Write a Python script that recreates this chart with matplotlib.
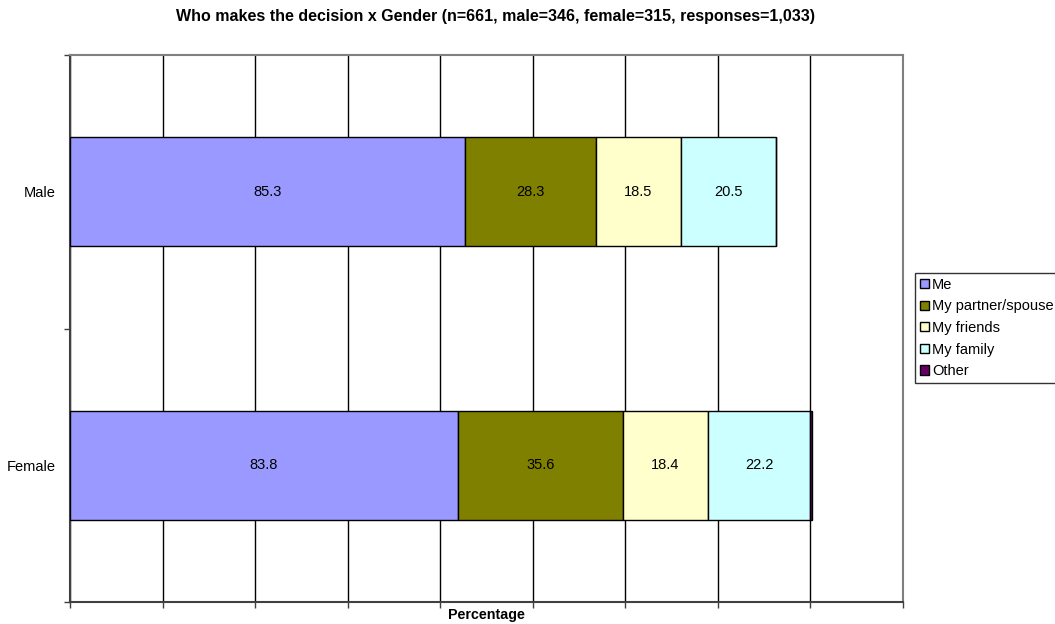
import matplotlib
matplotlib.use("Agg")
import matplotlib.pyplot as plt
import numpy as np

plt.rcParams['font.family'] = ['Liberation Sans', 'DejaVu Sans']

# Survey results: who makes the decision, split by gender
genders = ["Female", "Male"]
series_names = ["Me", "My partner/spouse", "My friends", "My family", "Other"]
me = [83.8, 85.3]
partner = [35.6, 28.3]
friends = [18.4, 18.5]
family = [22.2, 20.5]
other = [0.3, 0.0]
colors = ["#9999FF", "#808000", "#FFFFCC", "#CCFFFF", "#660066"]
show_labels = [True, True, True, True, False]

fig = plt.figure(figsize=(10.55, 6.24), dpi=100)
ax = fig.add_axes([70 / 1055, 1 - 602 / 624, 833 / 1055, 547 / 624])

y = np.arange(len(genders))
left = np.zeros(len(genders))
handles = []
for vals, name, col, lab in zip([me, partner, friends, family, other],
                                series_names, colors, show_labels):
    vals = np.array(vals)
    bars = ax.barh(y, vals, left=left, height=0.4, color=col,
                   edgecolor="black", linewidth=1.0, label=name, zorder=3)
    handles.append(bars)
    if lab:
        for yi, l, v in zip(y, left, vals):
            ax.text(l + v / 2, yi, f"{v:.1f}", ha="center", va="center",
                    fontsize=10.5, color="#000000", zorder=4)
    left = left + vals

ax.set_xlim(0, 180)
ax.set_ylim(-0.5, 1.5)
ax.set_xticks(np.arange(0, 181, 20))
ax.set_xticklabels([])
ax.set_yticks(y)
ax.set_yticklabels(genders, fontsize=10.5)
ax.set_yticks([-0.5, 0.5, 1.5], minor=True)
ax.tick_params(axis="y", which="major", length=0, pad=10)
ax.tick_params(axis="y", which="minor", length=4, width=1, color="#404040", direction="out")
ax.tick_params(axis="x", which="major", length=4, width=1, color="#404040", direction="out")

ax.xaxis.grid(True, color="#000000", linewidth=1.0, zorder=0)
ax.set_axisbelow(True)

for side in ["left", "bottom"]:
    ax.spines[side].set_color("#404040")
    ax.spines[side].set_linewidth(1.5)
for side in ["top", "right"]:
    ax.spines[side].set_color("#808080")
    ax.spines[side].set_linewidth(1.5)

ax.set_xlabel("Percentage", fontsize=10.3, fontweight="bold")
ax.xaxis.set_label_coords(0.5, -6 / 547)
ax.xaxis.label.set_verticalalignment("top")

fig.text(0.47, 1 - 17 / 624,
         "Who makes the decision x Gender (n=661, male=346, female=315, responses=1,033)",
         fontsize=11.5, fontweight="bold", ha="center", va="center")

leg = fig.legend(handles=handles, labels=series_names, loc="center left",
                 bbox_to_anchor=(915 / 1055, 1 - 328 / 624), fontsize=10.5,
                 frameon=True, fancybox=False, handlelength=0.6, handleheight=0.6,
                 handletextpad=0.2, labelspacing=0.52, borderpad=0.35,
                 borderaxespad=0.0)
leg.get_frame().set_edgecolor("black")
leg.get_frame().set_linewidth(1.0)

fig.savefig("out.png", dpi=100)
